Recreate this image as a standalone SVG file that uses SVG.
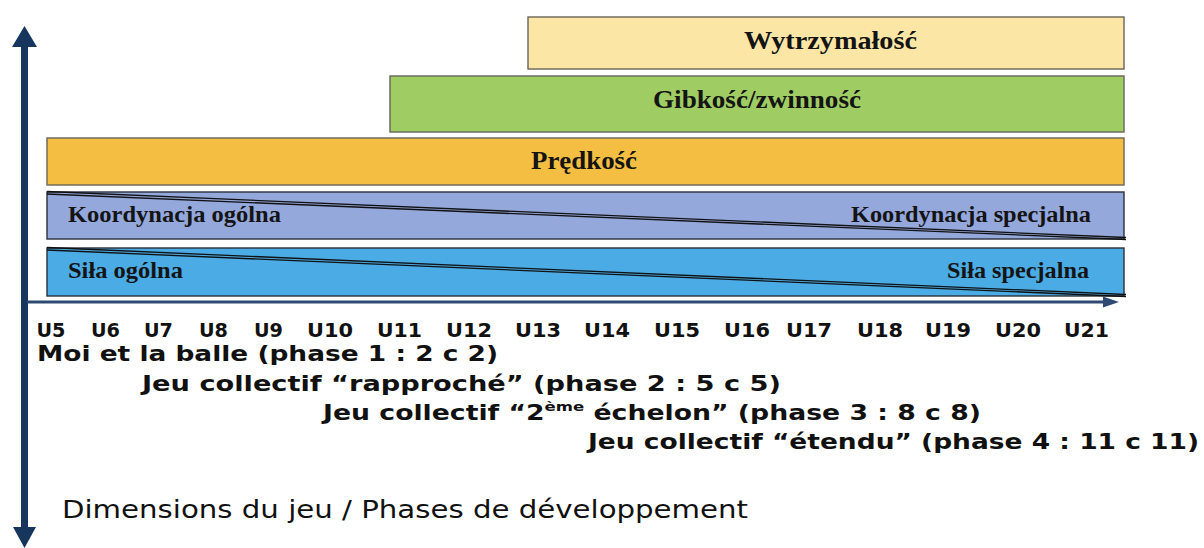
<svg xmlns="http://www.w3.org/2000/svg" width="1204" height="548" viewBox="0 0 1204 548">
<style>
.lbl{font-family:"Liberation Serif","Times New Roman",serif;font-weight:bold;fill:#141414}
.big{font-size:25px}
.mid{font-size:23px}
.ax{font-family:"DejaVu Sans",Verdana,sans-serif;font-weight:bold;fill:#111;font-size:21px}
.u{font-family:"DejaVu Sans",Verdana,sans-serif;font-weight:bold;fill:#111;font-size:19px}
.dim{font-family:"DejaVu Sans",Verdana,sans-serif;fill:#111;font-size:24px}
.boxw{stroke:#6a6459;stroke-width:1.4}
.boxb{stroke:#2a2f3a;stroke-width:1.4}
.diag{stroke:#111;stroke-width:1.3;fill:none}
</style>
<rect width="1204" height="548" fill="#fff"/>
<g id="axes">
  <rect x="21" y="46" width="7" height="483" fill="#17365d"/>
  <polygon points="24.5,26 12,47 37,47" fill="#17365d"/>
  <polygon points="24.5,548 13,527 36,527" fill="#17365d"/>
  <line x1="27" y1="302" x2="1105" y2="302" stroke="#2e4a72" stroke-width="3"/>
  <polygon points="1103,296.5 1119,302 1103,307.5" fill="#2e4a72"/>
</g>
<g id="wytrzymalosc">
  <rect class="boxw" x="528" y="17" width="596" height="52" fill="#fce6a6"/>
  <text class="lbl big" x="744" y="49" textLength="173" lengthAdjust="spacingAndGlyphs">Wytrzymałość</text>
</g>
<g id="gibkosc">
  <rect class="boxw" x="390" y="76" width="734" height="56" fill="#9fcc63"/>
  <text class="lbl big" x="653" y="108" textLength="208" lengthAdjust="spacingAndGlyphs">Gibkość/zwinność</text>
</g>
<g id="predkosc">
  <rect class="boxw" x="47" y="138" width="1077" height="47" fill="#f4be42"/>
  <text class="lbl big" x="531" y="169" textLength="106" lengthAdjust="spacingAndGlyphs">Prędkość</text>
</g>
<g id="koordynacja">
  <rect class="boxb" x="47" y="192" width="1077" height="47" fill="#95a8dc"/>
  <line class="diag" x1="47" y1="191.5" x2="1126" y2="237.5"/>
  <line class="diag" x1="47" y1="194" x2="1126" y2="239.5"/>
  <text class="lbl mid" x="68" y="222" textLength="213" lengthAdjust="spacingAndGlyphs">Koordynacja ogólna</text>
  <text class="lbl mid" x="851" y="222" textLength="240" lengthAdjust="spacingAndGlyphs">Koordynacja specjalna</text>
</g>
<g id="sila">
  <rect class="boxb" x="47" y="248" width="1077" height="48" fill="#4aabe5"/>
  <line class="diag" x1="47" y1="247.5" x2="1126" y2="294.5"/>
  <line class="diag" x1="47" y1="250" x2="1126" y2="296.5"/>
  <text class="lbl mid" x="68" y="277.5" textLength="115" lengthAdjust="spacingAndGlyphs">Siła ogólna</text>
  <text class="lbl mid" x="947" y="277.5" textLength="142" lengthAdjust="spacingAndGlyphs">Siła specjalna</text>
</g>
<g id="ages">
  <text class="u" x="36.5" y="337" textLength="29" lengthAdjust="spacingAndGlyphs">U5</text>
  <text class="u" x="91" y="337" textLength="29" lengthAdjust="spacingAndGlyphs">U6</text>
  <text class="u" x="144" y="337" textLength="29" lengthAdjust="spacingAndGlyphs">U7</text>
  <text class="u" x="199" y="337" textLength="29" lengthAdjust="spacingAndGlyphs">U8</text>
  <text class="u" x="254" y="337" textLength="29" lengthAdjust="spacingAndGlyphs">U9</text>
  <text class="u" x="307" y="337" textLength="46" lengthAdjust="spacingAndGlyphs">U10</text>
  <text class="u" x="377" y="337" textLength="45" lengthAdjust="spacingAndGlyphs">U11</text>
  <text class="u" x="446" y="337" textLength="46" lengthAdjust="spacingAndGlyphs">U12</text>
  <text class="u" x="515" y="337" textLength="46" lengthAdjust="spacingAndGlyphs">U13</text>
  <text class="u" x="584" y="337" textLength="46" lengthAdjust="spacingAndGlyphs">U14</text>
  <text class="u" x="654" y="337" textLength="46" lengthAdjust="spacingAndGlyphs">U15</text>
  <text class="u" x="724" y="337" textLength="46" lengthAdjust="spacingAndGlyphs">U16</text>
  <text class="u" x="786" y="337" textLength="46" lengthAdjust="spacingAndGlyphs">U17</text>
  <text class="u" x="857" y="337" textLength="46" lengthAdjust="spacingAndGlyphs">U18</text>
  <text class="u" x="925" y="337" textLength="46" lengthAdjust="spacingAndGlyphs">U19</text>
  <text class="u" x="995" y="337" textLength="46" lengthAdjust="spacingAndGlyphs">U20</text>
  <text class="u" x="1064" y="337" textLength="45" lengthAdjust="spacingAndGlyphs">U21</text>
</g>
<g id="phases">
  <text class="ax" x="37" y="361" textLength="461" lengthAdjust="spacingAndGlyphs">Moi et la balle (phase 1 : 2 c 2)</text>
  <text class="ax" x="142" y="391" textLength="639" lengthAdjust="spacingAndGlyphs">Jeu collectif “rapproché” (phase 2 : 5 c 5)</text>
  <text class="ax" x="323" y="420" textLength="658" lengthAdjust="spacingAndGlyphs">Jeu collectif “2<tspan font-size="13" dy="-9">ème</tspan><tspan dy="9"> échelon” (phase 3 : 8 c 8)</tspan></text>
  <text class="ax" x="588" y="449" textLength="611" lengthAdjust="spacingAndGlyphs">Jeu collectif “étendu” (phase 4 : 11 c 11)</text>
  <text class="dim" x="62" y="518" textLength="686" lengthAdjust="spacingAndGlyphs">Dimensions du jeu / Phases de développement</text>
</g>
</svg>
